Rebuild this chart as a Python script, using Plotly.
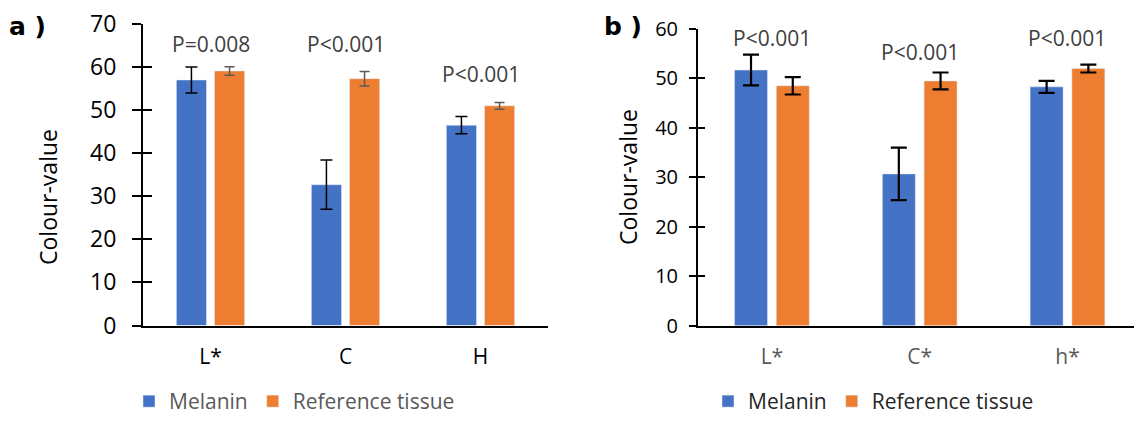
import plotly.graph_objects as go

# ---- data ----
cats_a = ["L*", "C", "H"]
mel_a = [57.0, 32.7, 46.5]
mel_a_err = [3.0, 5.7, 2.0]
ref_a = [59.1, 57.3, 51.0]
ref_a_err = [1.0, 1.7, 0.8]
p_a = ["P=0.008", "P<0.001", "P<0.001"]
p_a_y = [65.4, 65.4, 58.4]

cats_b = ["L*", "C*", "h*"]
mel_b = [51.7, 30.7, 48.3]
mel_b_err = [3.1, 5.3, 1.2]
ref_b = [48.5, 49.5, 52.0]
ref_b_err = [1.75, 1.7, 0.8]
p_b = ["P<0.001", "P<0.001", "P<0.001"]
p_b_y = [58.2, 55.3, 58.2]

BLUE = "#4472C4"
ORANGE = "#ED7D31"
FONT = "Open Sans"
W, H = 1134, 422

fig = go.Figure()

fig.add_trace(go.Bar(x=cats_a, y=mel_a, name="Melanin", marker_color=BLUE,
                     error_y=dict(type="data", array=mel_a_err, color="black", thickness=1.5, width=6),
                     xaxis="x", yaxis="y", legend="legend"))
fig.add_trace(go.Bar(x=cats_a, y=ref_a, name="Reference tissue", marker_color=ORANGE,
                     error_y=dict(type="data", array=ref_a_err, color="#595959", thickness=1.5, width=5),
                     xaxis="x", yaxis="y", legend="legend"))
fig.add_trace(go.Bar(x=cats_b, y=mel_b, name="Melanin", marker_color=BLUE,
                     error_y=dict(type="data", array=mel_b_err, color="black", thickness=2.2, width=8),
                     xaxis="x2", yaxis="y2", legend="legend2"))
fig.add_trace(go.Bar(x=cats_b, y=ref_b, name="Reference tissue", marker_color=ORANGE,
                     error_y=dict(type="data", array=ref_b_err, color="black", thickness=2.2, width=8),
                     xaxis="x2", yaxis="y2", legend="legend2"))

annotations = []
for c, t, yv in zip(cats_a, p_a, p_a_y):
    annotations.append(dict(x=c, y=yv, xref="x", yref="y", text=t, showarrow=False,
                            font=dict(family=FONT, size=21, color="#404040")))
for c, t, yv in zip(cats_b, p_b, p_b_y):
    annotations.append(dict(x=c, y=yv, xref="x2", yref="y2", text=t, showarrow=False,
                            font=dict(family=FONT, size=21, color="#404040")))

annotations += [
    dict(x=27 / W, y=1 - 27 / H, xref="paper", yref="paper", text="<b>a )</b>", showarrow=False,
         font=dict(family="DejaVu Sans", size=25, color="black"), xanchor="center", yanchor="middle"),
    dict(x=623 / W, y=1 - 27 / H, xref="paper", yref="paper", text="<b>b )</b>", showarrow=False,
         font=dict(family="DejaVu Sans", size=25, color="black"), xanchor="center", yanchor="middle"),
    dict(x=48 / W, y=1 - 197 / H, xref="paper", yref="paper", text="Colour-value", showarrow=False,
         textangle=-90, font=dict(family=FONT, size=23, color="black"), xanchor="center", yanchor="middle"),
    dict(x=628 / W, y=1 - 177 / H, xref="paper", yref="paper", text="Colour-value", showarrow=False,
         textangle=-90, font=dict(family=FONT, size=23, color="black"), xanchor="center", yanchor="middle"),
]

axis_common = dict(showgrid=False, zeroline=False, showline=True, linecolor="black", linewidth=2)

fig.update_layout(
    width=W, height=H,
    margin=dict(l=0, r=0, t=0, b=0, autoexpand=False),
    paper_bgcolor="white", plot_bgcolor="white",
    barmode="group", bargap=0.435, bargroupgap=0.21,
    font=dict(family=FONT, color="black"),
    xaxis=dict(domain=[143 / W, 548 / W], anchor="y", range=[-0.5, 2.5],
               ticks="", ticklabelstandoff=11, tickfont=dict(size=21, color="black"), **axis_common),
    yaxis=dict(domain=[1 - 325.5 / H, 1 - 24 / H], anchor="x", range=[0, 70], dtick=10,
               ticks="outside", ticklen=9, tickwidth=2, tickcolor="black", ticklabelstandoff=11,
               tickfont=dict(size=23, color="black"), **axis_common),
    yaxis3=dict(overlaying="y", matches="y", anchor="x", side="left", showline=False, showgrid=False,
                zeroline=False, ticks="inside", ticklen=9, tickwidth=2, tickcolor="black",
                showticklabels=False, dtick=10, range=[0, 70]),
    xaxis2=dict(domain=[698 / W, 1.0], anchor="y2", range=[-0.5, 2.45],
                ticks="", ticklabelstandoff=11, tickfont=dict(size=21, color="#595959"), **axis_common),
    yaxis2=dict(domain=[1 - 325.7 / H, 1 - 29 / H], anchor="x2", range=[0, 60], dtick=10,
                ticks="outside", ticklen=7, tickwidth=2, tickcolor="black", ticklabelstandoff=7,
                tickfont=dict(size=20, color="black"), **axis_common),
    yaxis4=dict(overlaying="y2", matches="y2", anchor="x2", side="left", showline=False, showgrid=False,
                zeroline=False, ticks="inside", ticklen=7, tickwidth=2, tickcolor="black",
                showticklabels=False, dtick=10, range=[0, 60]),
    legend=dict(orientation="h", x=129 / W, y=0, xanchor="left", yanchor="bottom",
                font=dict(family=FONT, size=21, color="#595959"), bgcolor="rgba(0,0,0,0)"),
    legend2=dict(orientation="h", x=708 / W, y=0, xanchor="left", yanchor="bottom",
                 font=dict(family=FONT, size=21, color="#262626"), bgcolor="rgba(0,0,0,0)"),
    annotations=annotations,
)

# invisible traces to activate overlay tick axes (ticks crossing the y axis)
fig.add_trace(go.Scatter(x=[None], y=[None], xaxis="x", yaxis="y3", showlegend=False, hoverinfo="skip"))
fig.add_trace(go.Scatter(x=[None], y=[None], xaxis="x2", yaxis="y4", showlegend=False, hoverinfo="skip"))

fig.write_html("out.html")
